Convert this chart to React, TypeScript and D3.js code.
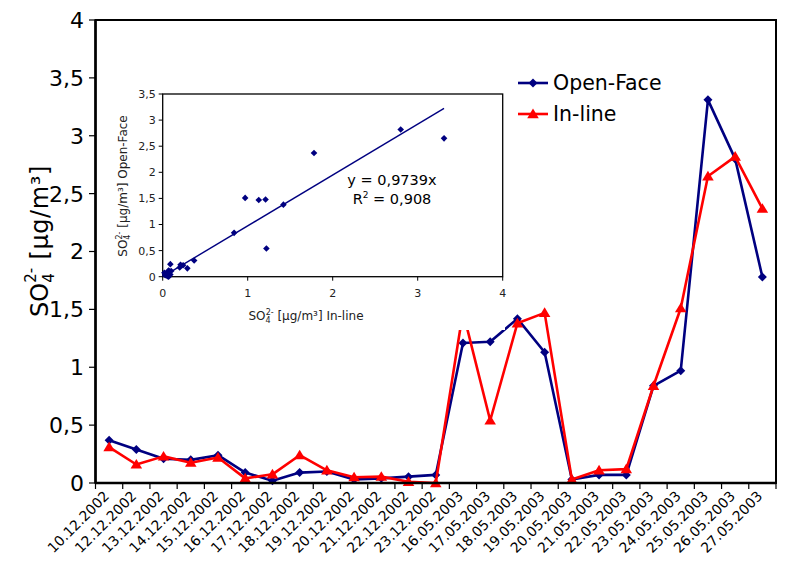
import React from "react";
import * as d3 from "d3";

// Sampling dates (category axis)
const categories = [
  "10.12.2002", "12.12.2002", "13.12.2002", "14.12.2002", "15.12.2002",
  "16.12.2002", "17.12.2002", "18.12.2002", "19.12.2002", "20.12.2002",
  "21.12.2002", "22.12.2002", "23.12.2002", "16.05.2003", "17.05.2003",
  "18.05.2003", "19.05.2003", "20.05.2003", "21.05.2003", "22.05.2003",
  "23.05.2003", "24.05.2003", "25.05.2003", "26.05.2003", "27.05.2003",
];

// SO4 2- concentrations [µg/m³]
const openFace = [
  0.37, 0.29, 0.21, 0.2, 0.24, 0.09, 0.02, 0.09, 0.1, 0.03, 0.04, 0.055, 0.07,
  1.21, 1.22, 1.42, 1.13, 0.03, 0.07, 0.07, 0.84, 0.97, 3.31, 2.8, 1.78,
];
const inLine = [
  0.31, 0.16, 0.23, 0.175, 0.22, 0.04, 0.075, 0.24, 0.11, 0.05, 0.055, 0.01, 0.0,
  1.48, 0.54, 1.38, 1.47, 0.03, 0.11, 0.12, 0.84, 1.51, 2.65, 2.82, 2.37,
];

const mainYTicks = [0, 0.5, 1, 1.5, 2, 2.5, 3, 3.5, 4];
const insetXTicks = [0, 1, 2, 3, 4];
const insetYTicks = [0, 0.5, 1, 1.5, 2, 2.5, 3, 3.5];

// Regression through the origin
const slope = 0.9739;
const rSquared = 0.908;

const NAVY = "#000080";
const RED = "#FF0000";
const FONT = "'DejaVu Sans', Verdana, sans-serif";

const fmt = (v: number) => String(v).replace(".", ",");

const diamond = (x: number, y: number, r: number) =>
  `M${x},${y - r}L${x + r},${y}L${x},${y + r}L${x - r},${y}Z`;
const triangle = (x: number, y: number, r: number) =>
  `M${x},${y - r}L${x + r * 1.05},${y + r * 0.75}L${x - r * 1.05},${y + r * 0.75}Z`;

export default function App() {
  const W = 787;
  const H = 566;

  // Main plot frame
  const left = 95.5;
  const right = 776;
  const top = 20;
  const bottom = 483;

  const x = d3.scaleBand<string>().domain(categories).range([left, right]);
  const y = d3.scaleLinear().domain([0, 4]).range([bottom, top]);
  const cx = (c: string) => (x(c) as number) + x.bandwidth() / 2;

  const line = d3
    .line<number>()
    .x((_, i) => cx(categories[i]))
    .y((v) => y(v));

  // Inset scatter frame
  const ix = d3.scaleLinear().domain([0, 4]).range([162.7, 502.7]);
  const iy = d3.scaleLinear().domain([0, 3.5]).range([276.7, 94]);
  const maxOF = d3.max(openFace) as number;

  const boundaries = d3.range(categories.length + 1).map((i) => left + i * x.step());

  return (
    <svg
      width={W}
      height={H}
      style={{ position: "absolute", left: 0, top: 0, background: "#fff" }}
      fontFamily={FONT}
    >
      <rect x={0} y={0} width={W} height={H} fill="#fff" />

      {/* y ticks and labels */}
      {mainYTicks.map((t) => (
        <g key={t}>
          <line x1={89} x2={left} y1={y(t)} y2={y(t)} stroke="#000" strokeWidth={1.2} />
          <text x={84} y={y(t)} dy="0.36em" textAnchor="end" fontSize={22} fill="#000">
            {fmt(t)}
          </text>
        </g>
      ))}

      {/* x ticks */}
      {boundaries.map((b, i) => (
        <line key={i} x1={b} x2={b} y1={bottom} y2={bottom + 6} stroke="#000" strokeWidth={1.2} />
      ))}

      {/* x labels */}
      {categories.map((c) => (
        <text
          key={c}
          transform={`translate(${cx(c) + 1},${bottom + 14}) rotate(-45)`}
          textAnchor="end"
          fontSize={14}
          fill="#000"
        >
          {c}
        </text>
      ))}

      {/* y axis title */}
      <text transform={`translate(48,${241}) rotate(-90)`} textAnchor="middle" fontSize={24} fill="#000">
        SO
        <tspan fontSize={15} dy={6}>4</tspan>
        <tspan fontSize={15} dx={-9.5} dy={-18}>2-</tspan>
        <tspan dy={12} letterSpacing={0.6}> [µg/m³]</tspan>
      </text>

      {/* series */}
      <path d={line(openFace) as string} fill="none" stroke={NAVY} strokeWidth={2.6} strokeLinejoin="round" />
      {openFace.map((v, i) => (
        <path key={i} d={diamond(cx(categories[i]), y(v), 4.5)} fill={NAVY} />
      ))}
      <path d={line(inLine) as string} fill="none" stroke={RED} strokeWidth={2.6} strokeLinejoin="round" />
      {inLine.map((v, i) => (
        <path key={i} d={triangle(cx(categories[i]), y(v), 5.5)} fill={RED} />
      ))}

      {/* frame */}
      <rect x={left} y={top} width={right - left} height={bottom - top} fill="none" stroke="#000" strokeWidth={2} />
      <line x1={left} x2={left} y1={top} y2={bottom} stroke="#000" strokeWidth={2.5} />
      <line x1={left} x2={right} y1={bottom} y2={bottom} stroke="#000" strokeWidth={2.5} />

      {/* legend */}
      <g>
        <line x1={518} x2={548} y1={83} y2={83} stroke={NAVY} strokeWidth={2.6} />
        <path d={diamond(533, 83, 4.5)} fill={NAVY} />
        <text x={553} y={83} dy="0.36em" fontSize={20.5} fill="#000">Open-Face</text>
        <line x1={518} x2={548} y1={114} y2={114} stroke={RED} strokeWidth={2.6} />
        <path d={triangle(533, 114, 5.5)} fill={RED} />
        <text x={553} y={114} dy="0.36em" fontSize={20.5} fill="#000">In-line</text>
      </g>

      {/* inset scatter */}
      <g>
        <rect x={104} y={84} width={401} height={246} fill="#fff" />
        <rect
          x={ix(0)}
          y={iy(3.5)}
          width={ix(4) - ix(0)}
          height={iy(0) - iy(3.5)}
          fill="#fff"
          stroke="#000"
          strokeWidth={1.3}
        />
        {insetYTicks.map((t) => (
          <g key={t}>
            <line x1={ix(0) - 4} x2={ix(0)} y1={iy(t)} y2={iy(t)} stroke="#000" strokeWidth={1} />
            <text x={ix(0) - 7} y={iy(t)} dy="0.36em" textAnchor="end" fontSize={11} fill="#222">
              {fmt(t)}
            </text>
          </g>
        ))}
        {insetXTicks.map((t) => (
          <g key={t}>
            <line x1={ix(t)} x2={ix(t)} y1={iy(0)} y2={iy(0) + 4} stroke="#000" strokeWidth={1} />
            <text x={ix(t)} y={iy(0) + 20} textAnchor="middle" fontSize={11} fill="#222">
              {t}
            </text>
          </g>
        ))}
        <line
          x1={ix(0)}
          y1={iy(0)}
          x2={ix(maxOF)}
          y2={iy(slope * maxOF)}
          stroke={NAVY}
          strokeWidth={1.4}
        />
        {openFace.map((v, i) => (
          <path key={i} d={diamond(ix(v), iy(inLine[i]), 3.3)} fill={NAVY} />
        ))}
        <text x={392} y={180} dy="0.36em" textAnchor="middle" fontSize={14.5} fill="#000">
          y = {fmt(slope)}x
        </text>
        <text x={392} y={199} dy="0.36em" textAnchor="middle" fontSize={14.5} fill="#000">
          R<tspan fontSize={9} dy={-6}>2</tspan>
          <tspan dy={6}> = {fmt(rSquared)}</tspan>
        </text>
        <text x={306} y={320} textAnchor="middle" fontSize={12} fill="#222">
          SO<tspan fontSize={8} dy={3}>4</tspan>
          <tspan fontSize={8} dx={-5} dy={-8.5}>2-</tspan>
          <tspan dy={5.5}> [µg/m³] In-line</tspan>
        </text>
        <text transform={`translate(127,${186}) rotate(-90)`} textAnchor="middle" fontSize={12} fill="#222">
          SO<tspan fontSize={8} dy={3}>4</tspan>
          <tspan fontSize={8} dx={-5} dy={-8.5}>2-</tspan>
          <tspan dy={5.5}> [µg/m³] Open-Face</tspan>
        </text>
      </g>
    </svg>
  );
}
